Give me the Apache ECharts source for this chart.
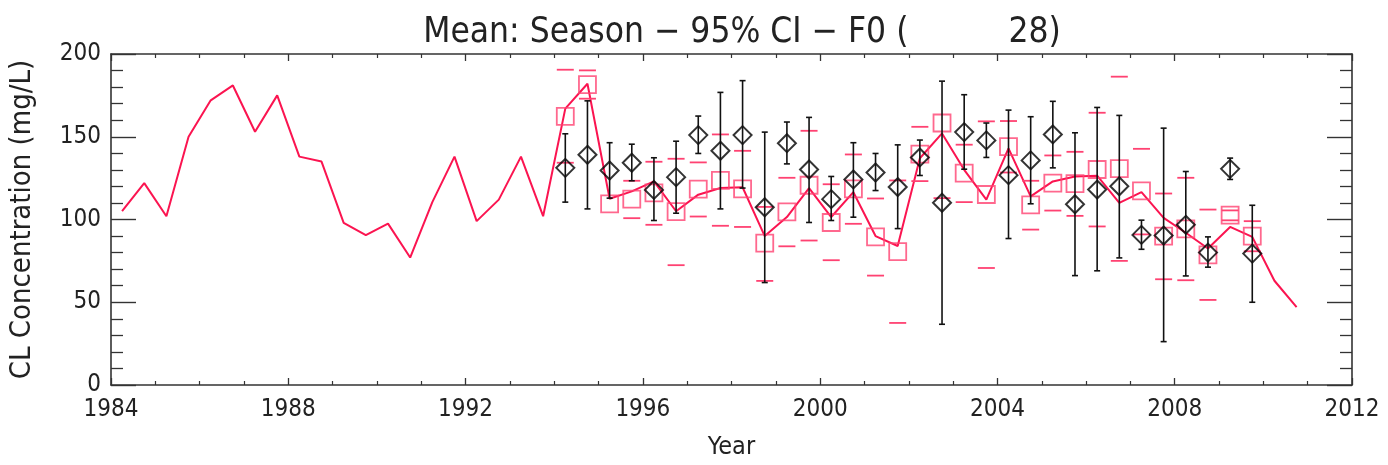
<!DOCTYPE html>
<html>
<head>
<meta charset="utf-8">
<script src="https://cdn.jsdelivr.net/npm/echarts@6/dist/echarts.min.js"></script>
<style>
  html, body { margin: 0; padding: 0; background: #fff; }
  #chart { width: 1388px; height: 465px; }
</style>
</head>
<body>
<div id="chart"></div>
<script>
// Seasonal running series (red line), 1984-2010
const lineYears = [
  1984.25, 1984.75, 1985.25, 1985.75, 1986.25, 1986.75, 1987.25, 1987.75,
  1988.25, 1988.75, 1989.25, 1989.75, 1990.25, 1990.75, 1991.25, 1991.75,
  1992.25, 1992.75, 1993.25, 1993.75, 1994.25, 1994.75, 1995.25, 1995.75,
  1996.25, 1996.75, 1997.25, 1997.75, 1998.25, 1998.75, 1999.25, 1999.75,
  2000.25, 2000.75, 2001.25, 2001.75, 2002.25, 2002.75, 2003.25, 2003.75,
  2004.25, 2004.75, 2005.25, 2005.75, 2006.25, 2006.75, 2007.25, 2007.75,
  2008.25, 2008.75, 2009.25, 2009.75, 2010.25, 2010.75
];
const lineValues = [
  105, 122, 102, 150, 172, 181, 153, 175,
  138, 135, 98, 90.5, 97.5, 77, 110.5, 138,
  99, 112, 138, 102, 167, 182, 112.5, 117,
  123, 105, 115, 119, 119.5, 90, 101.5, 119,
  101.5, 116.5, 90, 84, 137, 152, 130, 112,
  143, 114, 123, 126, 126.5, 110, 116.5, 101,
  92, 82.5, 95.5, 89.5, 63, 47
];

// Seasons with observations
const seasonYears = [
  1994.25, 1994.75, 1995.25, 1995.75, 1996.25, 1996.75, 1997.25, 1997.75,
  1998.25, 1998.75, 1999.25, 1999.75, 2000.25, 2000.75, 2001.25, 2001.75,
  2002.25, 2002.75, 2003.25, 2003.75, 2004.25, 2004.75, 2005.25, 2005.75,
  2006.25, 2006.75, 2007.25, 2007.75, 2008.25, 2008.75, 2009.25, 2009.75
];
// Modelled seasonal means (squares) with their bounds (dashes)
const modelMean = [
  162.3, 181.5, 109.5, 112.3, 116.1, 104.8, 118.3, 123.6,
  118.5, 85.7, 104.6, 120.7, 98.2, 118.5, 89.5, 80.6,
  139.5, 158.3, 128.0, 115.1, 144.0, 108.8, 122.0, 121.7,
  130.2, 130.8, 117.3, 89.9, 94.3, 78.6, 102.6, 89.9
];
const modelHigh = [
  190.5, 190.1, null, 123.4, 134.9, 136.7, 134.5, 151.4,
  141.5, 107.6, 125.2, 153.6, 121.3, 139.3, 112.7, 123.6,
  156.0, null, 145.2, 159.3, 159.5, 123.4, 138.7, 140.9,
  164.5, 186.3, 142.7, 115.7, 125.2, 106.0, 105.5, 99.0
];
const modelLow = [
  134.3, 173.0, null, 100.8, 96.8, 72.4, 101.8, 96.2,
  95.5, 62.9, 83.8, 87.3, 75.4, 97.4, 66.1, 37.5,
  123.2, 112.9, 110.5, 70.7, 128.4, 93.9, 105.4, 102.2,
  95.8, 75.0, 91.0, 63.9, 63.3, 51.4, 99.5, 80.8
];
// Observed seasonal means (diamonds) with 95% confidence interval
const obsMean = [
  131.2, 139.1, 129.6, 134.3, 117.9, 125.6, 151.0, 141.5,
  151.0, 107.4, 146.1, 130.2, 112.3, 124.2, 128.4, 119.6,
  137.5, 110.1, 152.8, 147.8, 126.8, 135.7, 151.4, 109.2,
  118.1, 120.1, 90.7, 90.3, 96.8, 80.0, 130.6, 79.4
];
const ciHigh = [
  151.8, 171.7, 146.4, 145.5, 137.3, 147.3, 162.5, 176.8,
  183.9, 152.8, 158.9, 161.7, 126.0, 146.4, 139.9, 145.1,
  148.0, 183.6, 175.4, 158.3, 166.1, 162.1, 171.4, 152.4,
  167.7, 162.9, 99.6, 155.2, 129.0, 89.5, 137.1, 108.6
];
const ciLow = [
  110.5, 106.4, 112.9, 123.4, 99.4, 103.8, 139.9, 106.4,
  119.0, 61.9, 133.6, 98.2, 99.4, 101.4, 117.5, 94.5,
  126.6, 36.7, 130.4, 137.5, 88.5, 109.5, 131.2, 66.1,
  69.0, 76.8, 82.0, 26.2, 65.9, 71.2, 124.2, 50.0
];

// Axis tick labels
const xTickLabels = ['1984', '1988', '1992', '1996', '2000', '2004', '2008', '2012'];
const yTickLabels = ['0', '50', '100', '150', '200'];

const titleText = 'Mean: Season \u2212 95% CI \u2212 F0 (          28)';
const yName = 'CL Concentration (mg/L)';
const xName = 'Year';

const FONT = "'Liberation Sans Narrow', 'DejaVu Sans Condensed', 'Liberation Sans', sans-serif";
const INK = '#222';
const AXIS = '#333';
const RED_LINE = '#fb1450';
const RED_MARK = '#ff4272';

const lineData = lineYears.map((x, i) => [x, lineValues[i]]);
const modelData = seasonYears.map((x, i) => [x, modelMean[i]]);
const obsData = seasonYears.map((x, i) => [x, obsMean[i]]);
const ciData = seasonYears.map((x, i) => [x, ciHigh[i], ciLow[i]]);
const boundData = [];
seasonYears.forEach((x, i) => {
  if (modelHigh[i] != null) boundData.push([x, modelHigh[i]]);
  if (modelLow[i] != null) boundData.push([x, modelLow[i]]);
});

function xLabel(v) {
  const idx = xTickLabels.indexOf(String(Math.round(v)));
  return idx >= 0 ? xTickLabels[idx] : '';
}
function yLabel(v) {
  const idx = yTickLabels.indexOf(String(Math.round(v)));
  return idx >= 0 ? yTickLabels[idx] : '';
}

const chart = echarts.init(document.getElementById('chart'), null, { renderer: 'canvas' });

const lineAxis = { show: true, onZero: false, lineStyle: { color: AXIS, width: 1.6 } };

chart.setOption({
  animation: false,
  backgroundColor: '#fff',
  title: {
    text: titleText,
    left: 737,
    top: 10,
    textAlign: 'center',
    textStyle: { fontFamily: FONT, fontSize: 35, fontWeight: 'normal', color: INK }
  },
  grid: { left: 109, right: 36, top: 54, bottom: 75 },
  xAxis: [
    {
      type: 'value', min: 1984, max: 2012, interval: 4, position: 'bottom',
      axisLine: lineAxis,
      axisTick: { show: true, inside: true, length: 7, lineStyle: { color: AXIS, width: 1.3 } },
      minorTick: { show: true, splitNumber: 4, length: 4, lineStyle: { color: AXIS, width: 1.2 } },
      splitLine: { show: false },
      axisLabel: { formatter: xLabel, fontFamily: FONT, fontSize: 24, color: INK, margin: 13 },
      name: xName, nameLocation: 'middle', nameGap: 50,
      nameTextStyle: { fontFamily: FONT, fontSize: 25, color: INK }
    },
    {
      type: 'value', min: 1984, max: 2012, interval: 4, position: 'top',
      axisLine: lineAxis,
      axisTick: { show: true, inside: true, length: 7, lineStyle: { color: AXIS, width: 1.3 } },
      minorTick: { show: true, splitNumber: 4, length: 4, lineStyle: { color: AXIS, width: 1.2 } },
      splitLine: { show: false },
      axisLabel: { show: false }
    }
  ],
  yAxis: [
    {
      type: 'value', min: 0, max: 200, interval: 50, position: 'left',
      axisLine: lineAxis,
      axisTick: { show: true, inside: true, length: 25, lineStyle: { color: AXIS, width: 1.4 } },
      minorTick: { show: true, splitNumber: 5, length: 12, lineStyle: { color: AXIS, width: 1.3 } },
      splitLine: { show: false },
      axisLabel: { formatter: yLabel, fontFamily: FONT, fontSize: 24, color: INK, margin: 10 },
      name: yName, nameLocation: 'middle', nameGap: 74, nameRotate: 90,
      nameTextStyle: { fontFamily: FONT, fontSize: 29, color: INK }
    },
    {
      type: 'value', min: 0, max: 200, interval: 50, position: 'right',
      axisLine: lineAxis,
      axisTick: { show: true, inside: true, length: 25, lineStyle: { color: AXIS, width: 1.4 } },
      minorTick: { show: true, splitNumber: 5, length: 12, lineStyle: { color: AXIS, width: 1.3 } },
      splitLine: { show: false },
      axisLabel: { show: false }
    }
  ],
  series: [
    {
      name: 'Season mean',
      type: 'line',
      data: lineData,
      showSymbol: false,
      symbol: 'none',
      lineStyle: { color: RED_LINE, width: 2 },
      z: 2
    },
    {
      name: 'Model',
      type: 'scatter',
      data: modelData,
      symbol: 'rect',
      symbolSize: 17,
      itemStyle: { color: 'rgba(0,0,0,0)', borderColor: RED_MARK, borderWidth: 1.8 },
      z: 3
    },
    {
      name: 'Model bounds',
      type: 'custom',
      data: boundData,
      renderItem: function (params, api) {
        const p = api.coord([api.value(0), api.value(1)]);
        return {
          type: 'line',
          shape: { x1: p[0] - 8.5, y1: p[1], x2: p[0] + 8.5, y2: p[1] },
          style: { stroke: RED_MARK, lineWidth: 1.8 }
        };
      },
      z: 3
    },
    {
      name: 'Observed',
      type: 'scatter',
      data: obsData,
      symbol: 'diamond',
      symbolSize: 18,
      itemStyle: { color: 'rgba(0,0,0,0)', borderColor: '#000', borderWidth: 2 },
      z: 4
    },
    {
      name: '95% CI',
      type: 'custom',
      data: ciData,
      renderItem: function (params, api) {
        const x = api.value(0);
        const top = api.coord([x, api.value(1)]);
        const bot = api.coord([x, api.value(2)]);
        const cap = 3;
        const st = { stroke: '#111', lineWidth: 1.6 };
        return {
          type: 'group',
          children: [
            { type: 'line', shape: { x1: top[0], y1: top[1], x2: bot[0], y2: bot[1] }, style: st },
            { type: 'line', shape: { x1: top[0] - cap, y1: top[1], x2: top[0] + cap, y2: top[1] }, style: st },
            { type: 'line', shape: { x1: bot[0] - cap, y1: bot[1], x2: bot[0] + cap, y2: bot[1] }, style: st }
          ]
        };
      },
      z: 5
    }
  ]
});
</script>
</body>
</html>
